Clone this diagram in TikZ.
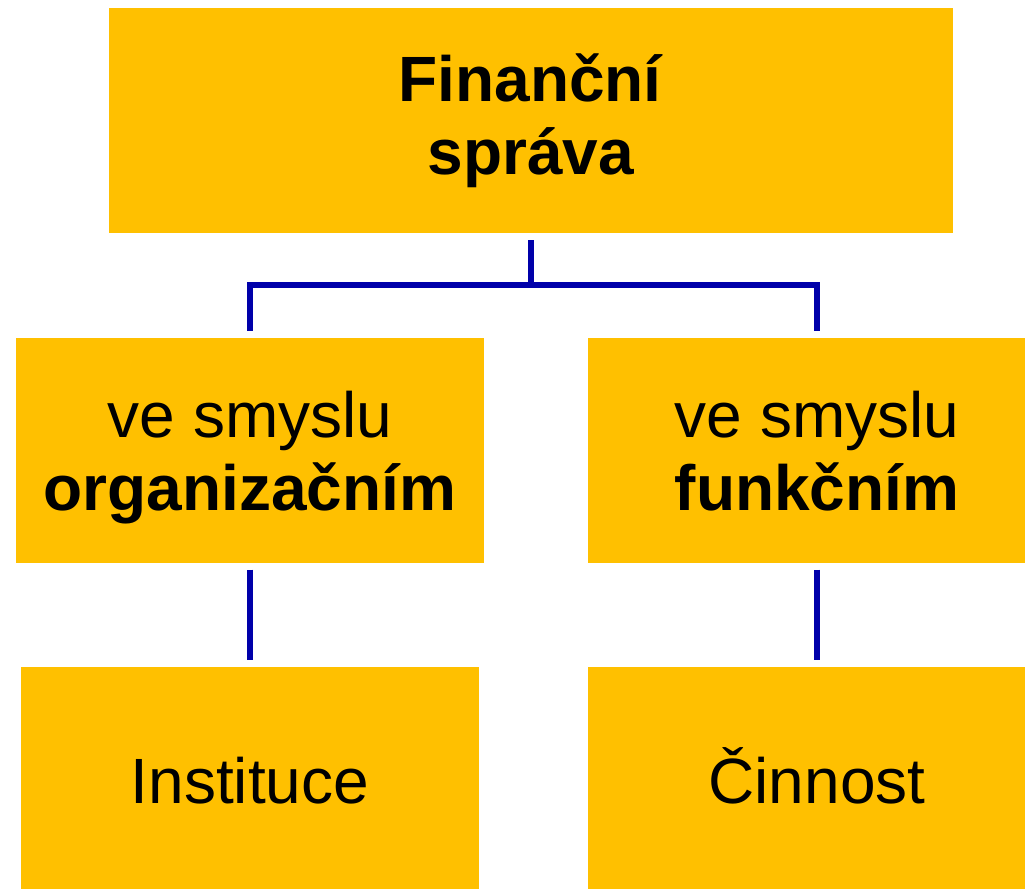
\documentclass[tikz,border=0pt]{standalone}
\usepackage{fontspec}
\setmainfont{Liberation Sans}
\definecolor{boxyellow}{HTML}{FFC000}
\definecolor{linkblue}{HTML}{0000AA}
% fixed line heights, so that all boxes set their text alike
\newcommand{\topstrut}{\rule{0pt}{31.5pt}}
\newcommand{\botstrut}{\rule[-8pt]{0pt}{8pt}}
\newcommand{\onestrut}{\rule[-12pt]{0pt}{44pt}}
\begin{document}
\begin{tikzpicture}[x=0.5pt, y=-0.5pt,
	box/.style={fill=boxyellow, inner sep=0pt, outer sep=3.5pt, align=center,
		font=\fontsize{32}{36.5}\selectfont},
	link/.style={draw=linkblue, line width=3pt}]
	\useasboundingbox (0,0) rectangle (1025,889);
	\node[box, minimum width=422pt, minimum height=112.5pt] (fs) at (531,120.5) {\textbf{Finanční}\\\textbf{správa}};
	\node[box, minimum width=234pt, minimum height=112.5pt] (org) at (250,450) {\topstrut ve smyslu\\\textbf{organizačním}\botstrut};
	\node[box, minimum width=229pt, minimum height=112.5pt] (fun) at (817,450) {\topstrut ve smyslu\\\textbf{funkčním}\botstrut};
	\node[box, minimum width=229pt, minimum height=116pt] (inst) at (250,783) {\onestrut Instituce};
	\node[box, minimum width=229pt, minimum height=116pt] (cin) at (817,783) {\onestrut Činnost};
	\coordinate (fork) at (531,285);
	\draw[link] (fs.south) -- (fork);
	\draw[link] (org.north) |- (fork) -| (fun.north);
	\foreach \a/\b in {org/inst, fun/cin}{
	\draw[link] (\a.south) -- (\b.north);
	}
\end{tikzpicture}
\end{document}
